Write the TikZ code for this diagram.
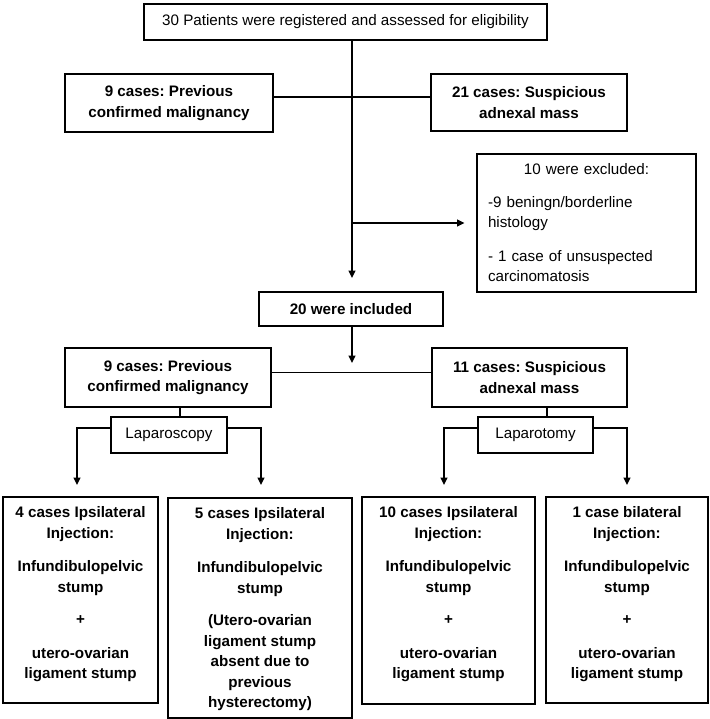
\documentclass[tikz,border=0pt]{standalone}
\usepackage{fontspec}
\setmainfont{Liberation Sans}
\usetikzlibrary{arrows.meta}
\newcommand\pgapA{\\[13pt]}
\newcommand\pgapB{\\[12pt]}
\frenchspacing
\begin{document}
\begin{tikzpicture}[x=1pt,y=-1pt,
  every node/.style={font=\fontsize{15.2}{20.5}\selectfont\frenchspacing},
  box/.style={draw, line width=2.9pt, inner sep=0pt, align=center},
  bbox/.style={box, font=\fontsize{15.2}{20.5}\selectfont\bfseries\frenchspacing},
  tbox/.style={draw, line width=2.9pt, inner sep=0pt, font=\fontsize{15.2}{20.5}\selectfont\bfseries\frenchspacing},
  conn/.style={line width=1.3pt},
  arr/.style={conn, -{Triangle[length=7.5pt,width=7pt]}}]
\useasboundingbox (0,0) rectangle (709,719);

% nodes
\node[box, minimum width=403pt, minimum height=36pt] (top) at (345.5,22) {30 Patients were registered and assessed for eligibility};
\node[bbox, minimum width=208pt, minimum height=58pt] (prev1) at (169,103) {9 cases: Previous\\confirmed malignancy};
\node[bbox, minimum width=196pt, minimum height=57pt] (susp1) at (529,102.5) {21 cases: Suspicious\\adnexal mass};
\node[box, minimum width=219pt, minimum height=138pt, text width=197pt, align=left] (excl) at (586.5,223)
  {\makebox[197pt][c]{10 were excluded:}\pgapB -9 beningn/borderline\\histology\pgapA - 1 case of unsuspected\\carcinomatosis};
\node[bbox, minimum width=184pt, minimum height=34pt] (incl) at (351,309) {20 were included};
\node[bbox, minimum width=206pt, minimum height=59pt] (prev2) at (168,377.5) {9 cases: Previous\\confirmed malignancy};
\node[bbox, minimum width=195pt, minimum height=59pt] (susp2) at (529.5,377.5) {11 cases: Suspicious\\adnexal mass};
\node[box, minimum width=116pt, minimum height=36pt] (lapsc) at (169,435) {Laparoscopy};
\node[box, minimum width=115pt, minimum height=36pt] (lapto) at (535.5,435) {Laparotomy};

\node[tbox] (b1) at (80.5,600) {\parbox[c][206pt][t]{155pt}{\centering\vspace*{9.5pt}4 cases Ipsilateral\\Injection:\pgapA Infundibulopelvic\\stump\pgapB +\pgapA utero-ovarian\\ligament stump}};
\node[tbox] (b2) at (260,608) {\parbox[c][220pt][t]{184pt}{\centering\vspace*{9.5pt}5 cases Ipsilateral\\Injection:\pgapA Infundibulopelvic\\stump\pgapB (Utero-ovarian\\ligament stump\\absent due to\\previous\\hysterectomy)}};
\node[tbox] (b3) at (448.5,600.5) {\parbox[c][207pt][t]{173pt}{\centering\vspace*{9.5pt}10 cases Ipsilateral\\Injection:\pgapA Infundibulopelvic\\stump\pgapB +\pgapA utero-ovarian\\ligament stump}};
\node[tbox] (b4) at (627,600) {\parbox[c][206pt][t]{162pt}{\centering\vspace*{9.5pt}1 case bilateral\\Injection:\pgapA Infundibulopelvic\\stump\pgapB +\pgapA utero-ovarian\\ligament stump}};

% helper coordinates
\coordinate (tipA) at (352,278);
\coordinate (tipB) at (352,363);
\coordinate (hy1) at (0,97);
\coordinate (hy2) at (0,372.5);
\coordinate (hy3) at (0,428);
\coordinate (lx1) at (180,0);
\coordinate (lx2) at (547,0);
\coordinate (t1) at (77,485);
\coordinate (t2) at (261,485);
\coordinate (t3) at (444,485);
\coordinate (t4) at (627,485);

% connectors
\draw[arr] (tipA |- top.south) -- (tipA);
\draw[conn] (prev1.east |- hy1) -- (susp1.west |- hy1);
\draw[arr, shorten >=11pt] (tipA |- excl.west) -- (excl.west);
\draw[arr] (tipB |- incl.south) -- (tipB);
\draw[conn] (prev2.east |- hy2) -- (susp2.west |- hy2);
\draw[conn] (lx1 |- prev2.south) -- (lx1 |- lapsc.north);
\draw[conn] (lx2 |- susp2.south) -- (lx2 |- lapto.north);
\draw[arr] (lapsc.west |- hy3) -| (t1);
\draw[arr] (lapsc.east |- hy3) -| (t2);
\draw[arr] (lapto.west |- hy3) -| (t3);
\draw[arr] (lapto.east |- hy3) -| (t4);
\end{tikzpicture}
\end{document}
